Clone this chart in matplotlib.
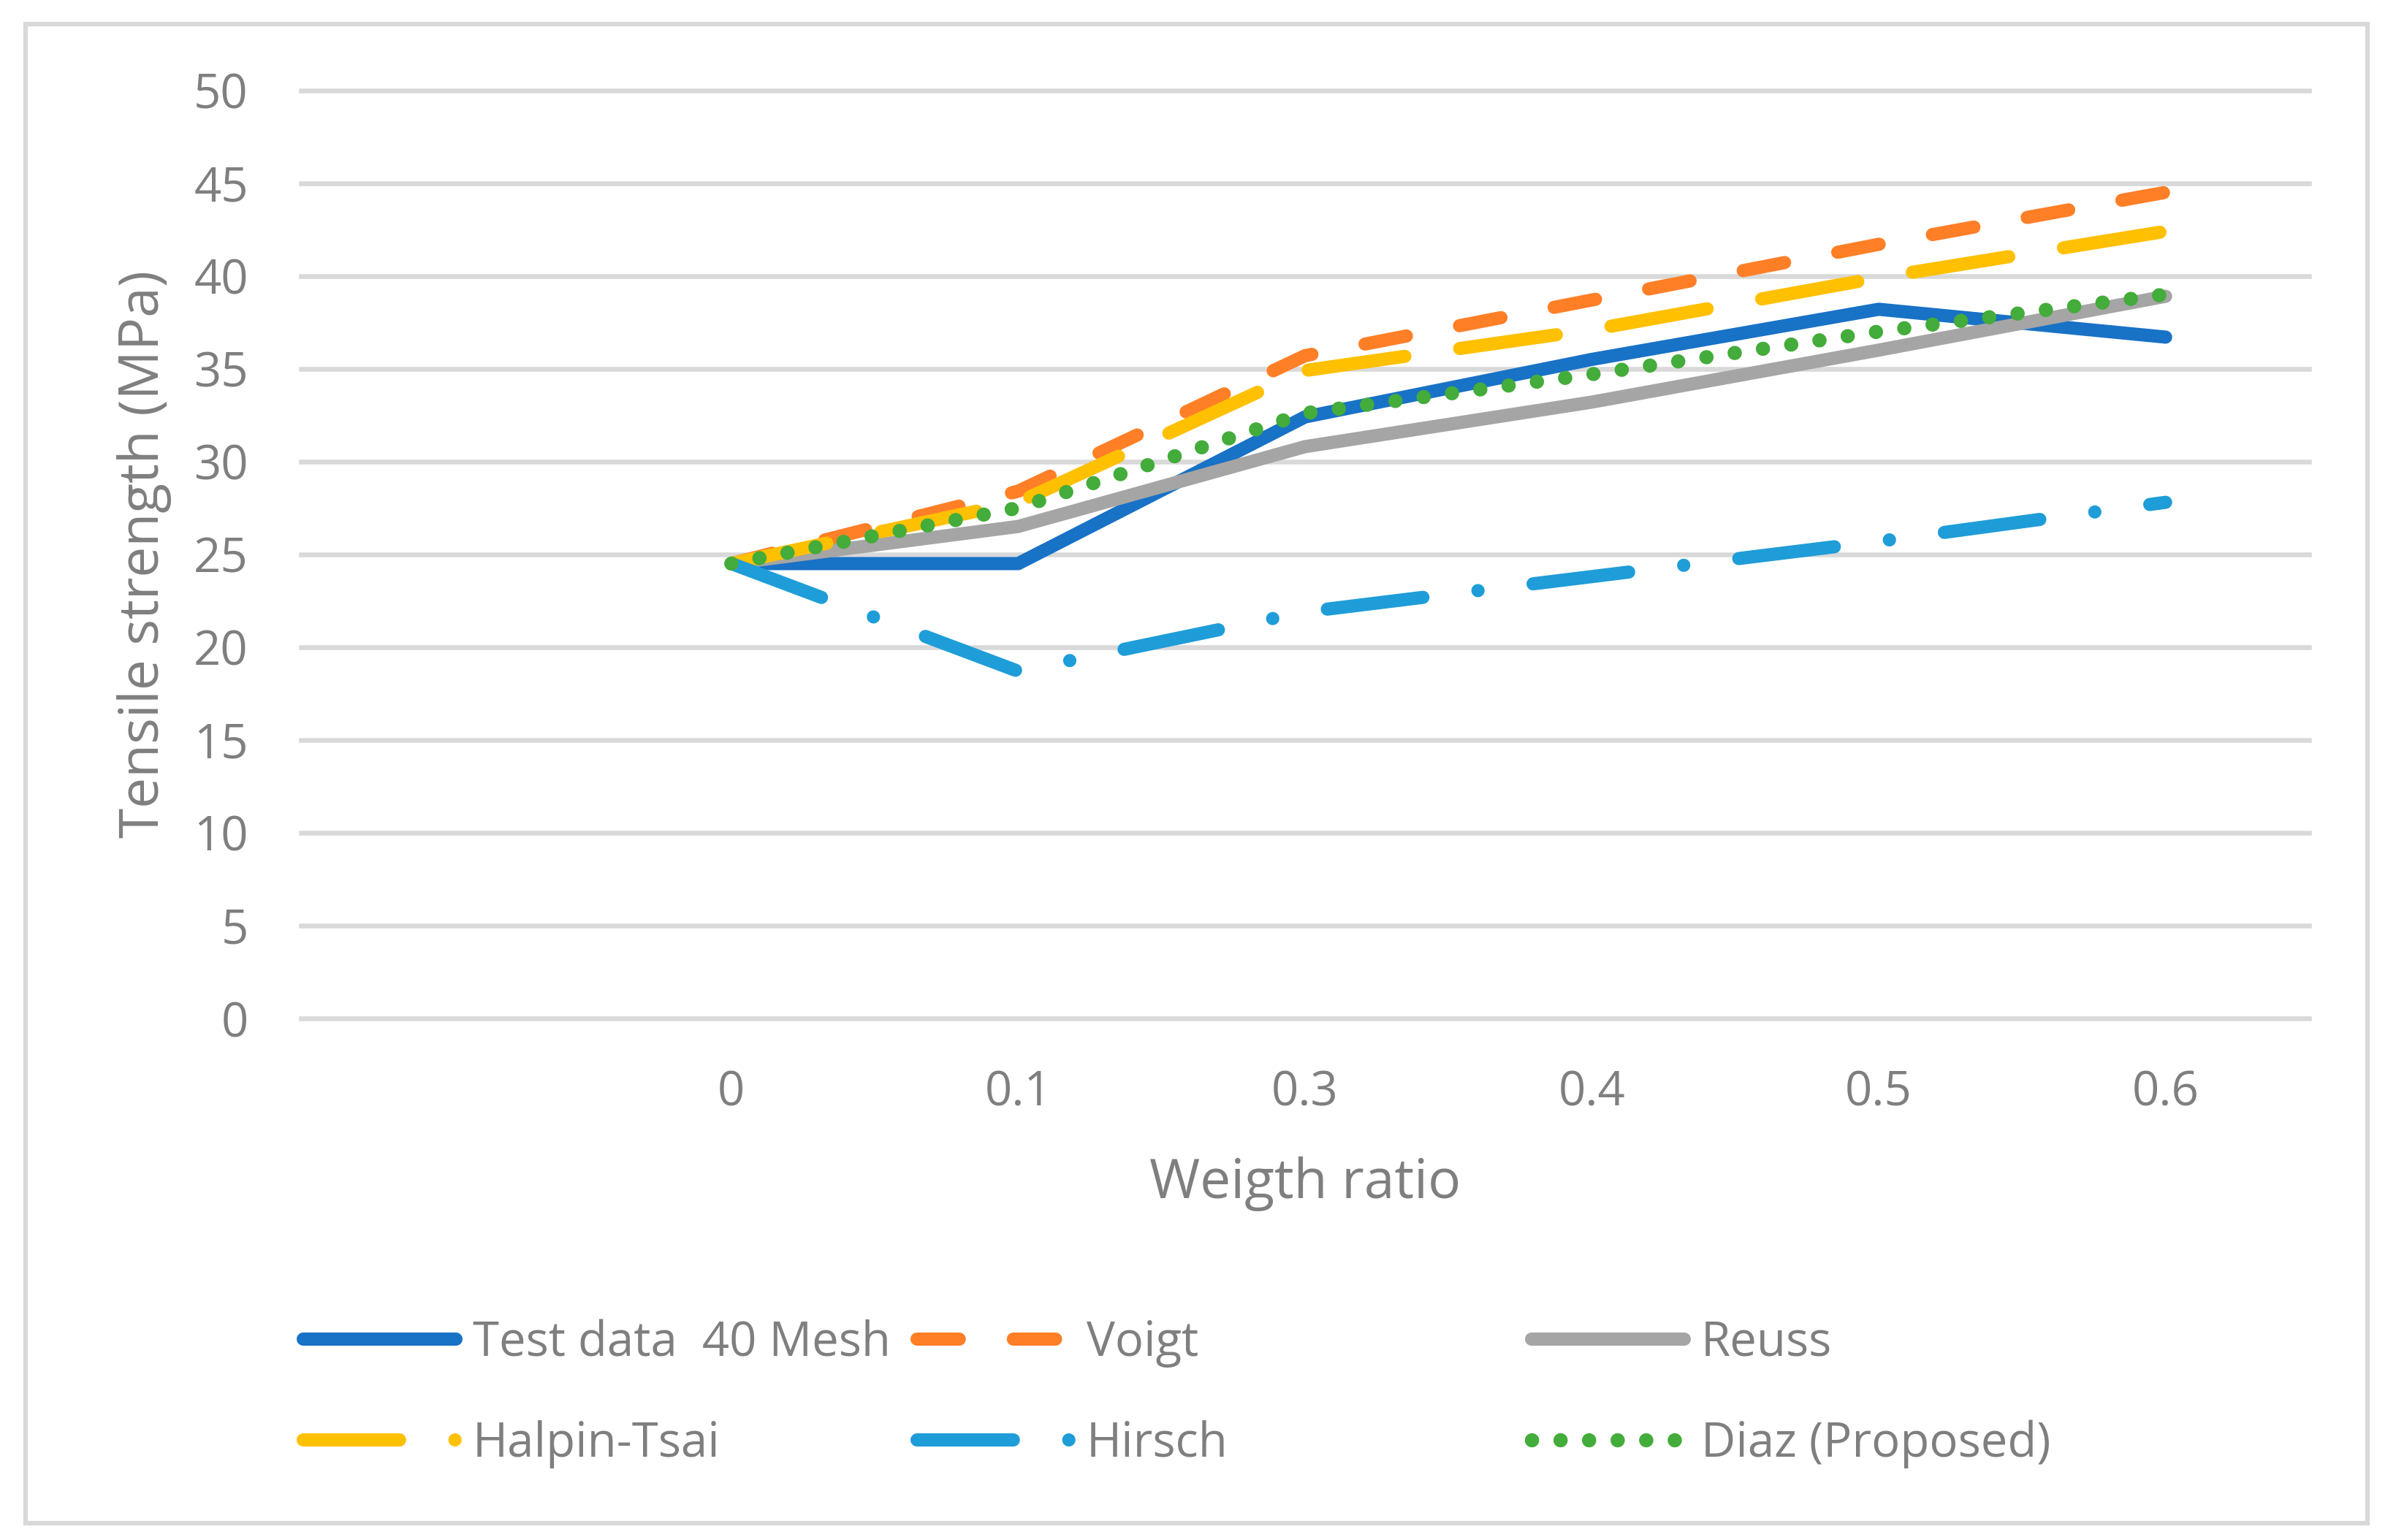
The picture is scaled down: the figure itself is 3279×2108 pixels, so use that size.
import matplotlib.pyplot as plt
from matplotlib.lines import Line2D
from matplotlib.patches import Rectangle

plt.rcParams['font.family'] = ['Open Sans', 'DejaVu Sans']

# category axis: first slot is empty, like the Excel sheet
categories = ['', '0', '0.1', '0.3', '0.4', '0.5', '0.6']
x_pos = [1, 2, 3, 4, 5, 6]

test_data = [24.5, 24.5, 32.4, 35.5, 38.2, 36.7]
voigt = [24.5, 28.4, 35.7, 38.7, 41.7, 44.5]
reuss = [24.5, 26.5, 30.8, 33.2, 36.0, 38.9]
halpin_tsai = [24.5, 27.8, 34.9, 37.1, 39.9, 42.4]
hirsch = [24.5, 18.7, 21.9, 23.8, 25.7, 27.8]
diaz = [24.5, 27.5, 32.6, 34.7, 37.0, 39.0]

grey_txt = '#7F7F7F'
c_test = '#1872C6'
c_voigt = '#FF7F27'
c_reuss = '#A5A5A5'
c_halpin = '#FFC000'
c_hirsch = '#1E9DD8'
c_diaz = '#43AC3A'

LW = 13

fig = plt.figure(figsize=(32.8, 21.08), dpi=100)
W, H = 3280, 2108
ax = fig.add_axes([412 / W, 1 - 1394 / H, (3160 - 412) / W, (1394 - 123.5) / H])

# outer chart border
fig.patches.append(Rectangle((35 / W, 1 - 2085 / H), (3240 - 35) / W, (2085 - 33) / H,
                             transform=fig.transFigure, fill=False, edgecolor='#D9D9D9', lw=4.5))

ax.plot(x_pos, test_data, color=c_test, lw=LW, solid_capstyle='round', solid_joinstyle='round')
ax.plot(x_pos, voigt, color=c_voigt, lw=LW, dashes=(3.2, 4.1), dash_capstyle='round', dash_joinstyle='round')
ax.plot(x_pos, reuss, color=c_reuss, lw=LW, solid_capstyle='round', solid_joinstyle='round')
ax.plot(x_pos, halpin_tsai, color=c_halpin, lw=LW, dashes=(7.4, 4.2), dash_capstyle='round', dash_joinstyle='round')
ax.plot(x_pos, hirsch, color=c_hirsch, lw=LW, dashes=(7.3, 4.2, 0.01, 4.2), dash_capstyle='round', dash_joinstyle='round')
ax.plot(x_pos, diaz, color=c_diaz, lw=14, dashes=(0.01, 2.0), dash_capstyle='round')

ax.set_xlim(-0.5, 6.5)
ax.set_ylim(0, 50)
ax.set_yticks(range(0, 51, 5))
ax.set_xticks(range(len(categories)))
ax.set_xticklabels(categories)
ax.yaxis.grid(True, color='#D9D9D9', lw=4.7)
for gl in ax.get_ygridlines():
    gl.set_clip_on(False)
ax.set_axisbelow(True)
for s in ax.spines.values():
    s.set_visible(False)
ax.tick_params(axis='y', length=0, pad=52, labelsize=47, labelcolor=grey_txt)
ax.tick_params(axis='x', length=0, pad=50, labelsize=47, labelcolor=grey_txt)

ax.set_ylabel('Tensile strength (MPa)', fontsize=54, color=grey_txt)
ax.yaxis.set_label_coords(-0.0644, 0.5)
ax.set_xlabel('Weigth ratio', fontsize=54, color=grey_txt)
ax.xaxis.set_label_coords(0.5, -0.149)

# legend, three fixed-width columns like Excel
def h(color, dashes=None, lw=LW):
    if dashes is None:
        return Line2D([], [], color=color, lw=lw, solid_capstyle='round')
    return Line2D([], [], color=color, lw=lw, dashes=dashes, dash_capstyle='round')

columns = [
    (415, [h(c_test), h(c_halpin, (7.3, 4.2, 0.01, 4.2))], ['Test data  40 Mesh', 'Halpin-Tsai']),
    (1255, [h(c_voigt, (3.2, 4.1)), h(c_hirsch, (7.3, 4.2, 0.01, 4.2))], ['Voigt', 'Hirsch']),
    (2096, [h(c_reuss), h(c_diaz, (0.01, 2.0), 14)], ['Reuss', 'Diaz (Proposed)']),
]
for x0, handles, labels in columns:
    leg = fig.legend(handles, labels, loc='center left', bbox_to_anchor=(x0 / W, 1 - 1908 / H),
                     frameon=False, fontsize=47, labelcolor=grey_txt, handlelength=3.2,
                     handletextpad=0.35, borderpad=0, borderaxespad=0, labelspacing=1.1)

fig.savefig('out.png', dpi=100)
